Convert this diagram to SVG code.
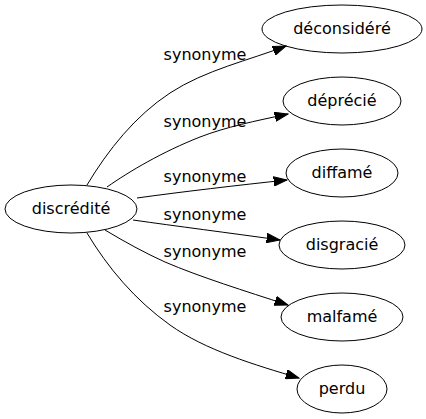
<svg xmlns="http://www.w3.org/2000/svg" width="426" height="419" viewBox="0 0 426 419">
<style>
.node ellipse{fill:none;stroke:#000;stroke-width:1}
.node text,.lbl{font-family:"DejaVu Sans",sans-serif;font-size:16px;fill:#000;text-anchor:middle}
.edge{fill:none;stroke:#000;stroke-width:1;marker-end:url(#arr)}
</style>
<defs>
<marker id="arr" markerUnits="userSpaceOnUse" markerWidth="14" markerHeight="10" refX="13.3" refY="5" orient="auto" viewBox="0 0 14 10">
<path d="M0,0.3 L13.3,5 L0,9.7 z" fill="#000" stroke="#000" stroke-width="1"/>
</marker>
</defs>
<rect width="426" height="419" fill="#fff"/>
<g id="connectors">
<path class="edge" d="M87,185 C108,150 135,116 170,93 C205,70 250,60 286,46"/>
<path class="edge" d="M107,187 C130,171 162,152 200,137 C226,127 255,121 288,114"/>
<path class="edge" d="M137,198 C180,192 240,185 287,180"/>
<path class="edge" d="M133,220 C175,226 230,233 280,240"/>
<path class="edge" d="M105,230 C125,242 145,253 165,262 C200,277 245,291 288,305"/>
<path class="edge" d="M87,233 C108,268 135,300 170,325 C205,350 255,365 299,378"/>
<text class="lbl" x="205" y="60">synonyme</text>
<text class="lbl" x="205" y="127">synonyme</text>
<text class="lbl" x="205" y="182">synonyme</text>
<text class="lbl" x="205" y="220">synonyme</text>
<text class="lbl" x="205" y="257">synonyme</text>
<text class="lbl" x="205" y="312">synonyme</text>
</g>
<g id="discredite" class="node"><ellipse cx="71" cy="209" rx="66" ry="24"/><text x="71" y="214">discrédité</text></g>
<g id="deconsidere" class="node"><ellipse cx="342" cy="29" rx="80" ry="24"/><text x="342" y="34">déconsidéré</text></g>
<g id="deprecie" class="node"><ellipse cx="342" cy="101" rx="59" ry="24"/><text x="342" y="106">déprécié</text></g>
<g id="diffame" class="node"><ellipse cx="342" cy="173" rx="56" ry="24"/><text x="342" y="178">diffamé</text></g>
<g id="disgracie" class="node"><ellipse cx="342" cy="245" rx="63" ry="24"/><text x="342" y="250">disgracié</text></g>
<g id="malfame" class="node"><ellipse cx="342" cy="317" rx="61" ry="24"/><text x="342" y="322">malfamé</text></g>
<g id="perdu" class="node"><ellipse cx="342" cy="389" rx="45" ry="24"/><text x="342" y="394">perdu</text></g>
</svg>
